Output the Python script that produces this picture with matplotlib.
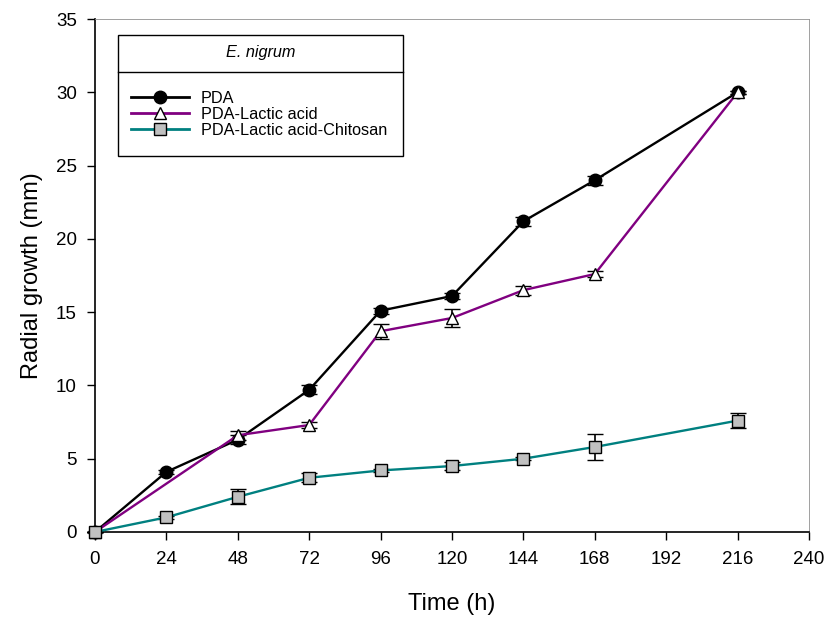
import matplotlib
matplotlib.use("Agg")
import matplotlib.pyplot as plt
from matplotlib.patches import Rectangle
from matplotlib.lines import Line2D

plt.rcParams['font.family'] = ['Liberation Sans', 'DejaVu Sans']

time_pda = [0, 24, 48, 72, 96, 120, 144, 168, 216]
pda = [0, 4.1, 6.3, 9.7, 15.1, 16.1, 21.2, 24.0, 30.0]
pda_err = [0, 0.15, 0.3, 0.3, 0.2, 0.2, 0.3, 0.3, 0.1]

time_lac = [0, 48, 72, 96, 120, 144, 168, 216]
lac = [0, 6.6, 7.3, 13.7, 14.6, 16.5, 17.6, 30.0]
lac_err = [0, 0.3, 0.2, 0.5, 0.6, 0.3, 0.2, 0.1]

time_chi = [0, 24, 48, 72, 96, 120, 144, 168, 216]
chi = [0, 1.0, 2.4, 3.7, 4.2, 4.5, 5.0, 5.8, 7.6]
chi_err = [0, 0.1, 0.5, 0.3, 0.1, 0.3, 0.1, 0.9, 0.5]

xticks = [0, 24, 48, 72, 96, 120, 144, 168, 192, 216, 240]
yticks = [0, 5, 10, 15, 20, 25, 30, 35]

fig = plt.figure(figsize=(8.29, 6.17), dpi=100)
ax = fig.add_axes([95/829, 1-532/617, (809-95)/829, (532-19)/617])

common = dict(capsize=6, elinewidth=1.2, capthick=1.2, ecolor='black', markersize=9,
              markeredgecolor='black', markeredgewidth=1.0, lw=1.7, clip_on=False)
ax.errorbar(time_pda, pda, yerr=pda_err, color='black', marker='o', markerfacecolor='black',
            zorder=3, **common)
ax.errorbar(time_lac, lac, yerr=lac_err, color='#800080', marker='^', markerfacecolor='white',
            zorder=4, **common)
ax.errorbar(time_chi, chi, yerr=chi_err, color='#008080', marker='s', markerfacecolor='#c0c0c0',
            zorder=5, **{**common, 'markersize': 8.5})

ax.set_xlim(0, 240)
ax.set_ylim(0, 35)
ax.set_xticks(xticks)
ax.set_yticks(yticks)
ax.tick_params(direction='out', length=6, width=1, labelsize=13.5)
ax.tick_params(axis='y', pad=7)
ax.tick_params(axis='x', pad=8)
for s in ['left', 'bottom']:
    ax.spines[s].set_linewidth(1.2)
for s in ['top', 'right']:
    ax.spines[s].set_color('#909090')
    ax.spines[s].set_linewidth(0.6)
ax.set_xlabel('Time (h)', fontsize=17, labelpad=18)
ax.set_ylabel('Radial growth (mm)', fontsize=17, labelpad=9)

# legend box in figure pixel coords
def fx(px):
    return px / 829
def fy(py):
    return 1 - py / 617

fig.patches.append(Rectangle((fx(118), fy(156)), fx(403) - fx(118), fy(35) - fy(156),
                             transform=fig.transFigure, fill=False, edgecolor='black', lw=1.0))
fig.lines.append(Line2D([fx(118), fx(403)], [fy(72), fy(72)], transform=fig.transFigure,
                        color='black', lw=1.0))
fig.text((fx(118) + fx(403)) / 2, fy(53), 'E. nigrum', style='italic', fontsize=11.7,
         ha='center', va='center')

handles = [
    Line2D([], [], color='black', marker='o', markerfacecolor='black', markeredgecolor='black',
           markersize=9, lw=2.0),
    Line2D([], [], color='#800080', marker='^', markerfacecolor='white', markeredgecolor='black',
           markersize=9, lw=2.0),
    Line2D([], [], color='#008080', marker='s', markerfacecolor='#c0c0c0', markeredgecolor='black',
           markersize=8, lw=2.0),
]
labels = ['PDA', 'PDA-Lactic acid', 'PDA-Lactic acid-Chitosan']
fig.legend(handles, labels, loc='upper left', bbox_to_anchor=(fx(131), fy(91)),
           frameon=False, fontsize=11.7, handlelength=3.6, handletextpad=0.7,
           labelspacing=0.05, borderpad=0, borderaxespad=0)

fig.savefig('out.png', dpi=100)
